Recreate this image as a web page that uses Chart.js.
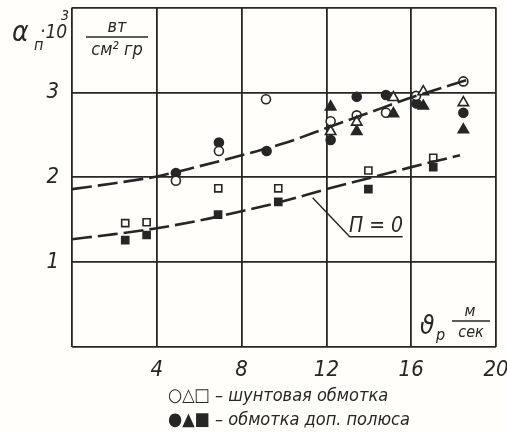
<!DOCTYPE html>
<html>
<head>
<meta charset="utf-8">
<script src="https://cdn.jsdelivr.net/npm/chart.js"></script>
<style>
  html, body { margin: 0; padding: 0; background: #fffefa; }
  #wrap { width: 507px; height: 432px; }
</style>
</head>
<body>
<div id="wrap"><canvas id="chart"></canvas></div>
<script>
// Data (x: v_p, m/s; y: alpha_p * 10^3)
const openCircle = [[4.9, 1.96], [6.93, 2.31], [9.15, 2.92], [12.2, 2.66], [13.43, 2.73], [14.81, 2.76], [16.23, 2.96], [18.46, 3.13]];
const filledCircle = [[4.9, 2.05], [6.93, 2.41], [9.18, 2.31], [12.2, 2.44], [13.43, 2.95], [14.81, 2.97], [16.25, 2.87], [18.46, 2.76]];
const openTriangle = [[12.2, 2.54], [13.43, 2.65], [15.16, 2.94], [16.57, 3.01], [18.46, 2.88]];
const filledTriangle = [[12.2, 2.83], [13.43, 2.54], [15.16, 2.75], [16.57, 2.84], [18.46, 2.56]];
const openSquare = [[2.51, 1.46], [3.52, 1.47], [6.9, 1.87], [9.73, 1.87], [13.98, 2.08], [17.04, 2.23]];
const filledSquare = [[2.51, 1.26], [3.52, 1.32], [6.89, 1.56], [9.73, 1.71], [13.98, 1.86], [17.04, 2.12]];

// fitted curves
const upperCurve = [[0, 1.86], [2, 1.93], [4, 2.01], [6, 2.13], [8, 2.26], [10, 2.40], [12, 2.58], [14, 2.76], [16, 2.94], [18.8, 3.16]];
const lowerCurve = [[0, 1.27], [2, 1.33], [4, 1.40], [6, 1.49], [8, 1.60], [10, 1.72], [12, 1.86], [14, 1.99], [16, 2.12], [18.3, 2.26]];

const xTicks = [4, 8, 12, 16, 20];
const yTicks = [1, 2, 3];

const INK = '#262626';
const PAPER = '#fffefa';
const FONT = "'DejaVu Sans Condensed', 'Liberation Sans Narrow', sans-serif";

function pts(arr) {
    return arr.map(p => ({ x: p[0], y: p[1] }));
}

function markerSet(data, style, filled, radius) {
    return {
        type: 'scatter',
        data: pts(data),
        pointStyle: style,
        pointRadius: radius,
        pointBorderWidth: 1.6,
        pointBorderColor: INK,
        pointBackgroundColor: filled ? INK : PAPER,
        showLine: false
    };
}

function curveSet(data) {
    return {
        type: 'line',
        data: pts(data),
        borderColor: INK,
        borderWidth: 2.6,
        borderDash: [20, 6],
        pointRadius: 0,
        cubicInterpolationMode: 'monotone',
        fill: false
    };
}

// Texts drawn on top: axis titles, units, annotation and legend
const annotations = {
    id: 'annotations',
    afterDraw(chart) {
        const ctx = chart.ctx;
        const xs = chart.scales.x, ys = chart.scales.y;
        ctx.save();
        ctx.fillStyle = INK;
        ctx.strokeStyle = INK;
        ctx.textBaseline = 'alphabetic';

        // y title  alpha_p * 10^3
        ctx.font = 'italic 28px ' + FONT;
        ctx.fillText('α', 12, 41);
        ctx.font = 'italic 16px ' + FONT;
        ctx.fillText('п', 34, 50);
        ctx.font = 'italic 19px ' + FONT;
        ctx.fillText('·10', 40, 38);
        ctx.font = 'italic 14px ' + FONT;
        ctx.fillText('3', 61, 20);

        // unit  вт / см² гр
        ctx.textAlign = 'center';
        ctx.font = 'italic 18px ' + FONT;
        ctx.fillText('вт', 117, 32);
        ctx.lineWidth = 1.6;
        ctx.beginPath();
        ctx.moveTo(86, 37);
        ctx.lineTo(148, 37);
        ctx.stroke();
        ctx.fillText('см² гр', 117, 55);

        // x unit  v_p  m / сек
        ctx.textAlign = 'left';
        ctx.font = 'italic 26px ' + FONT;
        ctx.fillText('ϑ', 420, 334);
        ctx.font = 'italic 16px ' + FONT;
        ctx.fillText('р', 436, 340);
        ctx.textAlign = 'center';
        ctx.fillText('м', 470, 316);
        ctx.beginPath();
        ctx.moveTo(452, 321);
        ctx.lineTo(490, 321);
        ctx.stroke();
        ctx.fillText('сек', 471, 337);

        // n = 0 with leader line
        ctx.lineWidth = 1.4;
        ctx.beginPath();
        ctx.moveTo(xs.getPixelForValue(11.35), ys.getPixelForValue(1.76));
        ctx.lineTo(xs.getPixelForValue(13.1), ys.getPixelForValue(1.3));
        ctx.lineTo(xs.getPixelForValue(15.6), ys.getPixelForValue(1.3));
        ctx.stroke();
        ctx.font = 'italic 21px ' + FONT;
        ctx.fillText('П = 0', 376, 232);

        // legend
        ctx.textAlign = 'left';
        ctx.font = 'italic 18px ' + FONT;
        ctx.fillText('○△□ – шунтовая обмотка', 168, 401);
        ctx.fillText('●▲■ – обмотка доп. полюса', 168, 425);
        ctx.restore();
    }
};

new Chart(document.getElementById('chart'), {
    data: {
        datasets: [
            curveSet(upperCurve),
            curveSet(lowerCurve),
            markerSet(openSquare, 'rect', false, 5),
            markerSet(filledSquare, 'rect', true, 5),
            markerSet(openTriangle, 'triangle', false, 6),
            markerSet(filledTriangle, 'triangle', true, 6),
            markerSet(openCircle, 'circle', false, 4.5),
            markerSet(filledCircle, 'circle', true, 4.5)
        ]
    },
    options: {
        responsive: true,
        maintainAspectRatio: false,
        animation: false,
        layout: { padding: { left: 0, right: 11, top: 5, bottom: 0 } },
        plugins: {
            legend: { display: false },
            tooltip: { enabled: false }
        },
        scales: {
            x: {
                type: 'linear',
                min: 0,
                max: 20,
                afterFit: s => { s.height = 85; s.paddingLeft = 0; s.paddingRight = 0; },
                afterBuildTicks: s => { s.ticks = [0].concat(xTicks).map(v => ({ value: v })); },
                border: { display: false },
                grid: { color: INK, lineWidth: 1.8, drawTicks: false },
                ticks: {
                    padding: 10,
                    color: INK,
                    font: { family: FONT, size: 22, style: 'italic' },
                    callback: v => xTicks.includes(v) ? String(v) : ''
                }
            },
            y: {
                type: 'linear',
                min: 0,
                max: 4,
                afterFit: s => { s.width = 72; s.paddingTop = 0; s.paddingBottom = 0; },
                afterBuildTicks: s => { s.ticks = [0, 1, 2, 3, 4].map(v => ({ value: v })); },
                border: { display: false },
                grid: { color: INK, lineWidth: 1.8, drawTicks: false },
                ticks: {
                    padding: 13,
                    color: INK,
                    font: { family: FONT, size: 22, style: 'italic' },
                    callback: v => yTicks.includes(v) ? String(v) : ''
                }
            }
        }
    },
    plugins: [annotations]
});
</script>
</body>
</html>
